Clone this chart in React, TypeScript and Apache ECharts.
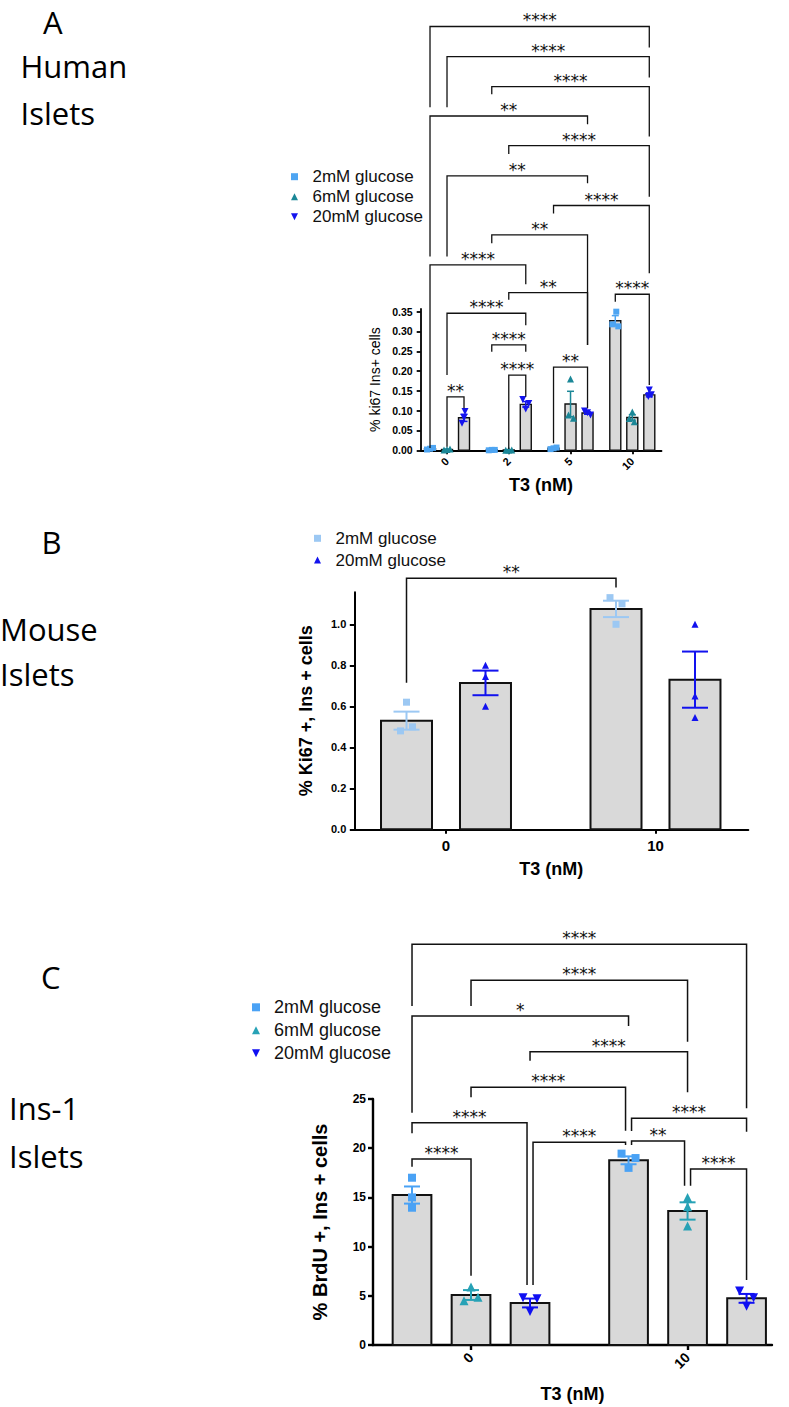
import React, { useEffect, useRef } from "react";
import * as echarts from "echarts";

// ================= DATA =================
// Panel A — Human islets, % ki67 Ins+ cells
const groupsA = ["0", "2", "5", "10"];
const namesA = ["2mM glucose", "6mM glucose", "20mM glucose"];
const meanA_2mM = [0.004, 0.001, 0.005, 0.327];
const meanA_6mM = [0.002, 0.001, 0.117, 0.083];
const meanA_20mM = [0.082, 0.116, 0.094, 0.14];
const semA_2mM = [0.001, 0.0005, 0.001, 0.013];
const semA_6mM = [0.001, 0.0005, 0.032, 0.007];
const semA_20mM = [0.009, 0.007, 0.003, 0.005];
const ptsA_2mM = [[0.002, 0.004, 0.006], [0.0, 0.001, 0.001], [0.003, 0.005, 0.007], [0.35, 0.318, 0.313]];
const ptsA_6mM = [[0.001, 0.002, 0.003], [0.0, 0.001, 0.001], [0.18, 0.089, 0.081], [0.097, 0.08, 0.072]];
const ptsA_20mM = [[0.098, 0.082, 0.068], [0.128, 0.118, 0.104], [0.099, 0.095, 0.089], [0.152, 0.14, 0.136]];
const yTicksA = [0, 0.05, 0.1, 0.15, 0.2, 0.25, 0.3, 0.35];
// comparisons: [fromGroup, fromSeries, fromNudge, toGroup, toSeries, toNudge, level, leftEnd, rightEnd, label]
const bracketsA: (number | string)[][] = [
  [0, 0, 0, 3, 2, 0, 1.07, 0.866, 1.017, "****"],
  [0, 1, 0, 3, 2, 0, 0.994, 0.866, 0.941, "****"],
  [1, 0, 0, 3, 2, 0, 0.918, 0.899, 0.792, "****"],
  [0, 0, 0, 2, 2, 0, 0.844, 0.489, 0.823, "**"],
  [1, 1, 0, 3, 2, 0, 0.769, 0.748, 0.64, "****"],
  [0, 1, 0, 2, 2, 0, 0.693, 0.489, 0.674, "**"],
  [2, 0, 0, 3, 2, 0, 0.618, 0.598, 0.447, "****"],
  [1, 0, 0, 2, 2, 0, 0.544, 0.523, 0.266, "**"],
  [0, 0, 0, 1, 2, 0, 0.468, 0.006, 0.419, "****"],
  [1, 1, 0, 2, 2, 0, 0.398, 0.38, 0.266, "**"],
  [3, 0, 0, 3, 2, 0, 0.394, 0.375, 0.165, "****"],
  [0, 1, 0, 1, 2, 0, 0.346, 0.19, 0.316, "****"],
  [1, 0, 0, 1, 2, 0, 0.266, 0.249, 0.249, "****"],
  [1, 1, 0, 1, 2, 0, 0.19, 0.003, 0.135, "****"],
  [2, 0, 0, 2, 2, 0, 0.21, 0.018, 0.106, "**"],
  [0, 1, 0, 0, 2, 0, 0.135, 0.009, 0.106, "**"],
];

// Panel B — Mouse islets, % Ki67 +, Ins + cells
const groupsB = ["0", "10"];
const namesB = ["2mM glucose", "20mM glucose"];
const meanB_2mM = [0.53, 1.075];
const meanB_20mM = [0.714, 0.73];
const semB_2mM = [0.044, 0.04];
const semB_20mM = [0.06, 0.137];
const ptsB_2mM = [[0.62, 0.48, 0.5], [1.13, 1.1, 1.0]];
const ptsB_20mM = [[0.8, 0.745, 0.6], [1.0, 0.65, 0.545]];
const yTicksB = [0, 0.2, 0.4, 0.6, 0.8, 1.0];
const bracketsB: (number | string)[][] = [[0, 0, 0, 1, 0, 0, 1.224, 0.715, 1.18, "**"]];

// Panel C — Ins-1 islets, % BrdU +, Ins + cells
const groupsC = ["0", "10"];
const namesC = ["2mM glucose", "6mM glucose", "20mM glucose"];
const meanC_2mM = [15.24, 18.77];
const meanC_6mM = [5.08, 13.62];
const meanC_20mM = [4.27, 4.74];
const semC_2mM = [0.87, 0.4];
const semC_6mM = [0.5, 0.88];
const semC_20mM = [0.45, 0.45];
const ptsC_2mM = [[17.0, 15.0, 13.95], [19.45, 19.0, 18.0]];
const ptsC_6mM = [[5.9, 4.85, 4.5], [15.0, 14.05, 12.1]];
const ptsC_20mM = [[4.8, 4.7, 3.4], [5.5, 4.8, 3.95]];
const yTicksC = [0, 5, 10, 15, 20, 25];
const bracketsC: (number | string)[][] = [
  [0, 0, 0, 1, 2, 0, 40.72, 34.45, 24.05, "****"],
  [0, 1, 0, 1, 1, 0, 37.06, 34.45, 30.82, "****"],
  [0, 0, 0, 1, 0, 0, 33.43, 23.61, 32.42, "*"],
  [0, 2, 0, 1, 1, 0, 29.81, 28.89, 25.68, "****"],
  [0, 1, 0, 1, 0, -1, 26.19, 25.17, 21.78, "****"],
  [0, 0, 0, 0, 2, -1, 22.59, 21.51, 6.1, "****"],
  [1, 0, 1, 1, 2, 0, 23.04, 21.75, 21.68, "****"],
  [0, 2, 1, 1, 0, -1, 20.6, 6.1, 20.33, "****"],
  [1, 0, 1, 1, 1, -1, 20.73, 20.33, 16.19, "**"],
  [1, 1, 1, 1, 2, 0, 17.89, 16.19, 6.61, "****"],
  [0, 0, 0, 0, 1, 0, 18.9, 18.12, 7.04, "****"],
];

// ================= STYLE / LAYOUT =================
const FONT = 'Arial, "Liberation Sans", Helvetica, sans-serif';
const SQUARE = "path://M0,0H10V10H0Z";
const UP = "path://M5,0L10,10H0Z";
const DOWN = "path://M0,0H10L5,10Z";

// replicate horizontal spread (px) so overlapping dots stay visible
const spreadA = [
  [[-3, 0, 3], [-3, 0, 3], [-3, 0, 3], [1, -3, 3]],
  [[-3, 0, 3], [-3, 0, 3], [0, -2, 3], [0, -3, 2]],
  [[1, 0, -2], [-3, 3, 0], [-3, 0, 3], [0, 2, -1]],
];
const spreadB = [
  [[0, -6, 6], [-6, 6, 0]],
  [[0, 0, 0], [0, 0, 0]],
];
const spreadC = [
  [[0, 0, 0], [-7, 7, 0]],
  [[0, 7, -7], [0, 0, 0]],
  [[-7, 7, 0], [-7, 7, 0]],
];

type SDef = {
  name: string; color: string; icon: string; size: number;
  means: number[]; sems: number[]; pts: number[][]; spread: number[][];
};

type Panel = {
  groups: string[];
  series: SDef[];
  brackets: (number | string)[][];
  yTicks: number[];
  yDec: number;
  yName: string;
  L: any;
};

const panels: Panel[] = [
  {
    groups: groupsA,
    yTicks: yTicksA,
    yDec: 2,
    yName: "% ki67 Ins+ cells",
    brackets: bracketsA,
    series: [
      { name: namesA[0], color: "#4ea5f2", icon: SQUARE, size: 6, means: meanA_2mM, sems: semA_2mM, pts: ptsA_2mM, spread: spreadA[0] },
      { name: namesA[1], color: "#1b8797", icon: UP, size: 7, means: meanA_6mM, sems: semA_6mM, pts: ptsA_6mM, spread: spreadA[1] },
      { name: namesA[2], color: "#1414ee", icon: DOWN, size: 7, means: meanA_20mM, sems: semA_20mM, pts: ptsA_20mM, spread: spreadA[2] },
    ],
    L: {
      left: 420.7, top: 308.9, width: 240.8, height: 141.4,
      xMin: -0.426, xMax: 3.473, yMax: 0.357, slot: 0.2753, barW: 0.178,
      axisW: 1.8, barLW: 1.4, errLW: 1.5, cap: 3.5, tickLen: 4,
      yLabelSize: 10.5, yLabelMargin: 8, xLabelSize: 11, xLabelMargin: 9, xRot: 45,
      yNameSize: 14, yNameBold: false, yNameGap: 39, xNameSize: 18, xNameGap: 26,
      brLW: 1.3, nudge: 3,
      legend: { left: 291, top: 166.7, icon: 7, fontSize: 17, gap: 0 },
    },
  },
  {
    groups: groupsB,
    yTicks: yTicksB,
    yDec: 1,
    yName: "% Ki67 +, Ins + cells",
    brackets: bracketsB,
    series: [
      { name: namesB[0], color: "#9cc8f3", icon: SQUARE, size: 7, means: meanB_2mM, sems: semB_2mM, pts: ptsB_2mM, spread: spreadB[0] },
      { name: namesB[1], color: "#1212ee", icon: UP, size: 7, means: meanB_20mM, sems: semB_20mM, pts: ptsB_20mM, spread: spreadB[1] },
    ],
    L: {
      left: 354.3, top: 592.3, width: 394, height: 237,
      xMin: -0.4377, xMax: 1.443, yMax: 1.156, slot: 0.377, barW: 0.2434,
      axisW: 2, barLW: 2, errLW: 2, cap: 13, tickLen: 4.5,
      yLabelSize: 11, yLabelMargin: 8, xLabelSize: 15, xLabelMargin: 9, xRot: 0,
      yNameSize: 18, yNameBold: true, yNameGap: 39, xNameSize: 18, xNameGap: 31,
      brLW: 1.5, nudge: 3,
      legend: { left: 314, top: 528.3, icon: 7, fontSize: 17, gap: 1.7 },
    },
  },
  {
    groups: groupsC,
    yTicks: yTicksC,
    yDec: 0,
    yName: "% BrdU +, Ins + cells",
    brackets: bracketsC,
    series: [
      { name: namesC[0], color: "#4aa2f5", icon: SQUARE, size: 8, means: meanC_2mM, sems: semC_2mM, pts: ptsC_2mM, spread: spreadC[0] },
      { name: namesC[1], color: "#27a2b6", icon: UP, size: 9, means: meanC_6mM, sems: semC_6mM, pts: ptsC_6mM, spread: spreadC[1] },
      { name: namesC[2], color: "#1010f2", icon: DOWN, size: 9, means: meanC_20mM, sems: semC_20mM, pts: ptsC_20mM, spread: spreadC[2] },
    ],
    L: {
      left: 373, top: 1099, width: 399, height: 246,
      xMin: -0.4527, xMax: 1.39, yMax: 25, slot: 0.2725, barW: 0.1788,
      axisW: 2.4, barLW: 2, errLW: 2, cap: 8, tickLen: 5,
      yLabelSize: 12, yLabelMargin: 7, xLabelSize: 14, xLabelMargin: 10, xRot: 45,
      yNameSize: 20, yNameBold: true, yNameGap: 43, xNameSize: 18, xNameGap: 40,
      brLW: 1.5, nudge: 3,
      legend: { left: 252, top: 997.3, icon: 8, fontSize: 18, gap: 3 },
    },
  },
];

function buildOption() {
  const grid: any[] = [];
  const xAxis: any[] = [];
  const yAxis: any[] = [];
  const series: any[] = [];
  const legend: any[] = [];

  panels.forEach((p, i) => {
    const L = p.L;
    const pxPerUnit = L.width / (L.xMax - L.xMin);
    const nS = p.series.length;
    const barX = (g: number, s: number) => g + (s - (nS - 1) / 2) * L.slot;
    const groupIdx = p.groups.map((_, k) => k);

    grid.push({ left: L.left, top: L.top, width: L.width, height: L.height, containLabel: false });

    xAxis.push({
      type: "value",
      gridIndex: i,
      min: L.xMin,
      max: L.xMax,
      name: "T3 (nM)",
      nameLocation: "middle",
      nameGap: L.xNameGap,
      nameTextStyle: { fontFamily: FONT, fontWeight: "bold", fontSize: L.xNameSize, color: "#000" },
      axisLine: { show: true, onZero: false, lineStyle: { color: "#000", width: L.axisW } },
      axisTick: { show: true, length: L.tickLen, customValues: groupIdx, lineStyle: { color: "#000", width: L.axisW } },
      axisLabel: {
        show: true,
        customValues: groupIdx,
        formatter: (v: number) => p.groups[Math.round(v)] ?? "",
        rotate: L.xRot,
        margin: L.xLabelMargin,
        fontFamily: FONT,
        fontWeight: "bold",
        fontSize: L.xLabelSize,
        color: "#000",
      },
      splitLine: { show: false },
    });

    yAxis.push({
      type: "value",
      gridIndex: i,
      min: 0,
      max: L.yMax,
      name: p.yName,
      nameLocation: "middle",
      nameRotate: 90,
      nameGap: L.yNameGap,
      nameTextStyle: {
        fontFamily: FONT,
        fontWeight: L.yNameBold ? "bold" : "normal",
        fontSize: L.yNameSize,
        color: "#000",
      },
      axisLine: { show: true, onZero: false, lineStyle: { color: "#000", width: L.axisW } },
      axisTick: { show: true, length: L.tickLen, customValues: p.yTicks, lineStyle: { color: "#000", width: L.axisW } },
      axisLabel: {
        show: true,
        customValues: p.yTicks,
        formatter: (v: number) => v.toFixed(p.yDec),
        margin: L.yLabelMargin,
        fontFamily: FONT,
        fontWeight: "bold",
        fontSize: L.yLabelSize,
        color: "#000",
      },
      splitLine: { show: false },
    });

    // bars
    const barData: number[][] = [];
    p.series.forEach((sd, s) => sd.means.forEach((m, g) => barData.push([barX(g, s), m])));
    series.push({
      type: "custom",
      xAxisIndex: i,
      yAxisIndex: i,
      z: 2,
      silent: true,
      data: barData,
      renderItem: (_params: any, api: any) => {
        const x = api.value(0);
        const v = api.value(1);
        const p0 = api.coord([x - L.barW / 2, v]);
        const p1 = api.coord([x + L.barW / 2, 0]);
        return {
          type: "rect",
          shape: { x: p0[0], y: p0[1], width: p1[0] - p0[0], height: p1[1] - p0[1] },
          style: { fill: "#d9d9d9", stroke: "#111", lineWidth: L.barLW },
        };
      },
    });

    // replicate points
    p.series.forEach((sd, s) => {
      const data: number[][] = [];
      sd.pts.forEach((arr, g) =>
        arr.forEach((v, k) => data.push([barX(g, s) + (sd.spread[g][k] || 0) / pxPerUnit, v]))
      );
      series.push({
        type: "scatter",
        name: sd.name,
        xAxisIndex: i,
        yAxisIndex: i,
        z: 3,
        silent: true,
        symbol: sd.icon,
        symbolSize: sd.size,
        symbolKeepAspect: true,
        itemStyle: { color: sd.color, opacity: 1 },
        data,
      });
    });

    // error bars (mean ± SEM)
    const errData: number[][] = [];
    p.series.forEach((sd, s) => sd.means.forEach((m, g) => errData.push([barX(g, s), m, sd.sems[g], s])));
    series.push({
      type: "custom",
      xAxisIndex: i,
      yAxisIndex: i,
      z: 4,
      silent: true,
      data: errData,
      renderItem: (_params: any, api: any) => {
        const x = api.value(0);
        const m = api.value(1);
        const e = api.value(2);
        const color = p.series[api.value(3)].color;
        const t = api.coord([x, m + e]);
        const b = api.coord([x, Math.max(0, m - e)]);
        const st = { stroke: color, lineWidth: L.errLW };
        return {
          type: "group",
          children: [
            { type: "line", shape: { x1: t[0], y1: t[1], x2: b[0], y2: b[1] }, style: st },
            { type: "line", shape: { x1: t[0] - L.cap, y1: t[1], x2: t[0] + L.cap, y2: t[1] }, style: st },
            { type: "line", shape: { x1: b[0] - L.cap, y1: b[1], x2: b[0] + L.cap, y2: b[1] }, style: st },
          ],
        };
      },
    });

    // significance brackets
    const brData = p.brackets.map((b, k) => {
      const x1 = barX(b[0] as number, b[1] as number) + ((b[2] as number) * L.nudge) / pxPerUnit;
      const x2 = barX(b[3] as number, b[4] as number) + ((b[5] as number) * L.nudge) / pxPerUnit;
      return [x1, b[6] as number, x2, b[7] as number, b[8] as number, k];
    });
    series.push({
      type: "custom",
      xAxisIndex: i,
      yAxisIndex: i,
      z: 5,
      silent: true,
      clip: false,
      data: brData,
      renderItem: (_params: any, api: any) => {
        const x1 = api.value(0);
        const y = api.value(1);
        const x2 = api.value(2);
        const yl = api.value(3);
        const yr = api.value(4);
        const label = p.brackets[api.value(5)][9] as string;
        const a = api.coord([x1, yl]);
        const b = api.coord([x1, y]);
        const c = api.coord([x2, y]);
        const d = api.coord([x2, yr]);
        return {
          type: "group",
          children: [
            {
              type: "polyline",
              shape: { points: [a, b, c, d] },
              style: { stroke: "#111", lineWidth: L.brLW, fill: null },
            },
            {
              type: "text",
              x: (b[0] + c[0]) / 2,
              y: b[1] - 6,
              style: {
                text: label,
                font: '17px "DejaVu Sans", sans-serif',
                fill: "#111",
                align: "center",
                verticalAlign: "middle",
              },
            },
          ],
        };
      },
    });

    legend.push({
      orient: "vertical",
      left: L.legend.left,
      top: L.legend.top,
      padding: 0,
      itemWidth: 26,
      itemHeight: L.legend.icon,
      itemGap: L.legend.gap,
      selectedMode: false,
      symbolKeepAspect: true,
      textStyle: { fontFamily: FONT, fontSize: L.legend.fontSize, lineHeight: 20, color: "#111" },
      data: p.series.map((sd) => ({ name: sd.name, icon: sd.icon, itemStyle: { color: sd.color } })),
    });
  });

  const titleFont = '31px "Open Sans", "Noto Sans", sans-serif';
  const titles = [
    { t: "A", x: 43, y: 21.5 },
    { t: "Human", x: 20.5, y: 65.8 },
    { t: "Islets", x: 20.5, y: 112.5 },
    { t: "B", x: 41.5, y: 542 },
    { t: "Mouse", x: 0, y: 629 },
    { t: "Islets", x: 0, y: 674 },
    { t: "C", x: 41, y: 977 },
    { t: "Ins-1", x: 9, y: 1108.3 },
    { t: "Islets", x: 9, y: 1156 },
  ];

  return {
    animation: false,
    backgroundColor: "#ffffff",
    grid,
    xAxis,
    yAxis,
    legend,
    series,
    graphic: titles.map((o) => ({
      type: "text",
      x: o.x,
      y: o.y,
      silent: true,
      style: { text: o.t, font: titleFont, fill: "#000", align: "left", verticalAlign: "middle" },
    })),
  };
}

export default function App() {
  const ref = useRef<HTMLDivElement>(null);
  useEffect(() => {
    if (!ref.current) return;
    const chart = echarts.init(ref.current, null, { renderer: "svg" });
    chart.setOption(buildOption() as any);
    return () => chart.dispose();
  }, []);
  return (
    <div
      ref={ref}
      style={{ position: "absolute", left: 0, top: 0, width: 789, height: 1407, background: "#fff" }}
    />
  );
}
